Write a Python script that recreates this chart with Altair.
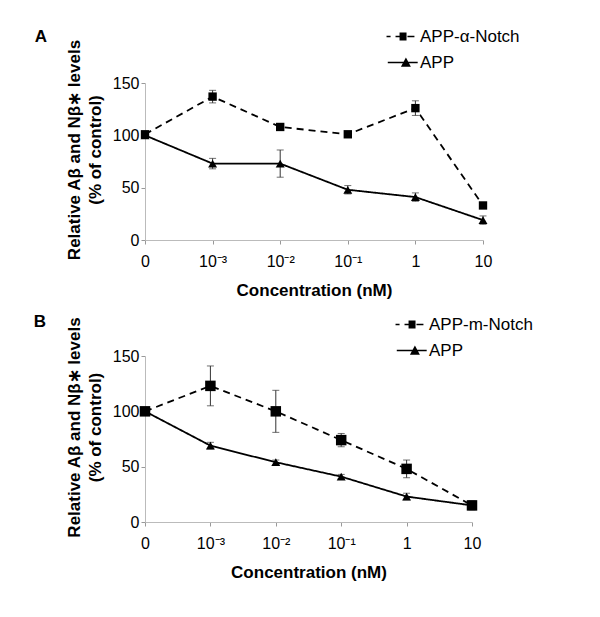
import altair as alt
import pandas as pd

# ---------------- data ----------------
concentrations = ["0", "10\u207b\u00b3", "10\u207b\u00b2", "10\u207b\u00b9", "1", "10"]

notch_a_name = "APP-\u03b1-Notch"
notch_a = [101, 137, 108, 101, 126, 33]
notch_a_err = [2, 6, 2, 2, 7, 2]
app_a = [100, 73, 73, 48, 41, 19]
app_a_err = [1, 5, 13, 4, 4, 4]

notch_b_name = "APP-m-Notch"
notch_b = [100, 123, 100, 74, 48, 15]
notch_b_err = [1, 18, 19, 6, 8, 4]
app_b = [100, 69, 54, 41, 23, 15]
app_b_err = [1, 3, 2, 2, 3, 3]

y_ticks = [0, 50, 100, 150]

FONT = "Liberation Sans"

# legend symbols (line + marker), unit box about -1..1; markers filled with strokes
NOTCH_PATH = ("M-1.03,0H-0.77M-0.45,0H-0.19M0.32,0H0.77"
              "M-0.19,-0.21H0.26M-0.19,-0.105H0.26M-0.19,0H0.26"
              "M-0.19,0.105H0.26M-0.19,0.21H0.26")
APP_PATH = ("M-0.95,0H0.98"
            "M0.22,-0.22L0.455,0.22L-0.015,0.22Z"
            "M0.193,-0.15H0.247M0.14,-0.07H0.30M0.086,0.03H0.354"
            "M0.033,0.13H0.407")


def panel(letter, notch_name, notch, notch_err, app, app_err,
          width, height, leg_x, leg_y, let_x, let_y, sq_size):
    rows = []
    for i, c in enumerate(concentrations):
        rows.append(dict(conc=c, order=i, series=notch_name, value=notch[i],
                         lo=notch[i] - notch_err[i], hi=notch[i] + notch_err[i]))
    for i, c in enumerate(concentrations):
        rows.append(dict(conc=c, order=i, series="APP", value=app[i],
                         lo=app[i] - app_err[i], hi=app[i] + app_err[i]))
    df = pd.DataFrame(rows)
    domain = [notch_name, "APP"]

    x = alt.X("conc:O", sort=concentrations,
              scale=alt.Scale(type="point", padding=0),
              axis=alt.Axis(title="Concentration (nM)", labelAngle=0,
                            titlePadding=13, labelPadding=9))
    y_axis = alt.Axis(title=["Relative A\u03b2 and N\u03b2\u2217 levels", "(% of control)"],
                      values=y_ticks, titleLineHeight=21, titlePadding=8,
                      titleY=height / 2 - 12)
    y = alt.Y("value:Q", scale=alt.Scale(domain=[0, 150], nice=False), axis=y_axis)

    base = alt.Chart(df)

    err_rule = base.mark_rule(color="#333", strokeWidth=1).encode(
        x=x, y=alt.Y("lo:Q", scale=alt.Scale(domain=[0, 150], nice=False), axis=y_axis),
        y2="hi:Q")
    cap_lo = base.mark_tick(color="#333", thickness=1, size=7).encode(
        x=x, y=alt.Y("lo:Q"))
    cap_hi = base.mark_tick(color="#333", thickness=1, size=7).encode(
        x=x, y=alt.Y("hi:Q"))

    lines = base.mark_line(color="black", strokeWidth=1.8).encode(
        x=x, y=y, detail="series:N",
        strokeDash=alt.StrokeDash("series:N",
                                  scale=alt.Scale(domain=domain, range=[[7, 5], [1, 0]]),
                                  legend=None))

    points = base.mark_point(filled=True, color="black", opacity=1).encode(
        x=x, y=y,
        shape=alt.Shape("series:N",
                        scale=alt.Scale(domain=domain, range=["square", "triangle-up"]),
                        legend=None),
        size=alt.Size("series:N",
                      scale=alt.Scale(domain=domain, range=[sq_size, 80]),
                      legend=None))

    legend_layer = base.mark_point(filled=False, color="black", opacity=0).encode(
        x=x, y=y,
        shape=alt.Shape("series:N",
                        scale=alt.Scale(domain=domain, range=[NOTCH_PATH, APP_PATH]),
                        legend=alt.Legend(title=None, orient="none",
                                          legendX=leg_x, legendY=leg_y,
                                          symbolSize=961, symbolOpacity=1,
                                          symbolStrokeColor="black",
                                          symbolStrokeWidth=1.6,
                                          labelFont=FONT, labelFontSize=17,
                                          labelColor="black", labelOffset=1,
                                          rowPadding=1)))

    letter_mark = alt.Chart(pd.DataFrame({"t": [letter]})).mark_text(
        font=FONT, fontSize=17, fontWeight="bold", color="black",
        align="center", baseline="middle").encode(
        text="t:N", x=alt.value(let_x), y=alt.value(let_y))

    return alt.layer(err_rule, cap_lo, cap_hi, lines, points, legend_layer,
                     letter_mark).resolve_scale(
        shape="independent", size="independent").properties(
        width=width, height=height)


chart_a = panel("A", notch_a_name, notch_a, notch_a_err, app_a, app_a_err,
                338, 157, 241, -63, -104, -46, 70)
chart_b = panel("B", notch_b_name, notch_b, notch_b_err, app_b, app_b_err,
                327, 166, 250, -48, -105, -34, 110)

chart = alt.vconcat(chart_a, chart_b, spacing=10).resolve_scale(
    x="independent", y="independent", shape="independent",
    strokeDash="independent", size="independent").properties(
    padding={"left": 25, "top": 12, "right": 5, "bottom": 5}
).configure_view(stroke=None).configure_axis(
    labelFont=FONT, labelFontSize=16, labelColor="black",
    titleFont=FONT, titleFontSize=17, titleFontWeight="bold", titleColor="black",
    domainColor="#bbbbbb", tickColor="#999999", tickSize=4, grid=False
)

chart.save("out.html", embed_options={"renderer": "svg", "actions": False})
